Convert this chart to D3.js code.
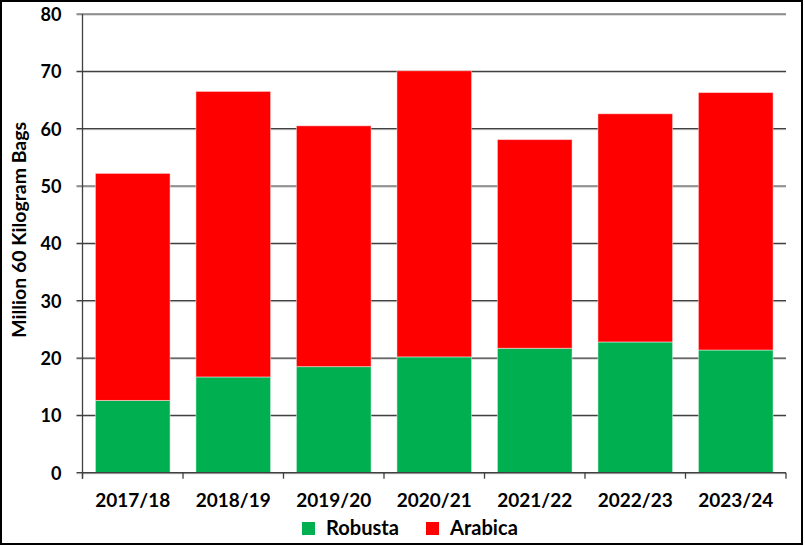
<!DOCTYPE html>
<html><head><meta charset="utf-8">
<script src="https://cdn.jsdelivr.net/npm/d3@7"></script>
<style>body{margin:0;background:#fff}svg{display:block}</style>
</head><body>
<svg id="c" width="805" height="546"></svg>
<script>
const categories = ["2017/18","2018/19","2019/20","2020/21","2021/22","2022/23","2023/24"];
const robusta = [12.6, 16.7, 18.5, 20.2, 21.7, 22.8, 21.4];
const arabica = [39.6, 49.8, 42.0, 49.9, 36.4, 39.8, 44.9];
const yTicks = [0,10,20,30,40,50,60,70,80];
const seriesNames = ["Robusta","Arabica"];
const colors = ["#00B050","#FF0000"];

const svg = d3.select("#c");
const m = {l: 82.5, r: 786, t: 14, b: 472.7};
const font = "Lato, 'Open Sans', sans-serif";

// choose font size so a sample string reaches a target width
function fitSize(str, target){
  const t = svg.append("text").attr("font-family",font).attr("font-weight","bold").attr("font-size","100px").text(str);
  const w = t.node().getComputedTextLength(); t.remove();
  return 100*target/w;
}
const xFs = fitSize("2017/18", 75);
const yFs = fitSize("60", 21);
const tFs = fitSize("Million 60 Kilogram Bags", 216);
const lFs = fitSize("Robusta", 73);

svg.append("rect").attr("x",1).attr("y",1).attr("width",801).attr("height",543)
  .attr("fill","#fff").attr("stroke","#000").attr("stroke-width",2);

const x = d3.scaleBand().domain(categories).range([m.l, m.r]).paddingInner(0.257).paddingOuter(0.1285);
const y = d3.scaleLinear().domain([0,80]).range([m.b, m.t]);

const g = svg.append("g");
yTicks.forEach(t => {
  g.append("line").attr("x1",m.l-6).attr("x2",m.r).attr("y1",y(t)+1).attr("y2",y(t)+1)
    .attr("stroke","#bfbfbf").attr("stroke-width",1);
  g.append("line").attr("x1",m.l-6).attr("x2",m.r).attr("y1",y(t)).attr("y2",y(t))
    .attr("stroke","#404040").attr("stroke-width",1.2);
});

const rows = categories.map((c,i)=>({cat:c, Robusta:robusta[i], Arabica:arabica[i]}));
const stack = d3.stack().keys(seriesNames)(rows);
stack.forEach((s,si) => {
  svg.append("g").selectAll("rect").data(s).join("rect")
    .attr("x", d => x(d.data.cat))
    .attr("width", x.bandwidth())
    .attr("y", d => y(d[1]))
    .attr("height", d => y(d[0]) - y(d[1]))
    .attr("fill", colors[si])
    .attr("stroke","rgba(255,255,255,0.45)").attr("stroke-width",1);
});

const yAxis = d3.axisLeft(y).tickValues(yTicks).tickSize(0).tickPadding(21);
const ya = svg.append("g").attr("transform",`translate(${m.l},0)`).call(yAxis);
ya.select(".domain").remove();
ya.selectAll("text").attr("font-family",font).attr("font-weight","bold").attr("font-size",yFs+"px").attr("fill","#000").attr("dy","0.36em");
svg.append("line").attr("x1",m.l).attr("x2",m.l).attr("y1",m.t).attr("y2",m.b+6).attr("stroke","#404040").attr("stroke-width",1.3);

svg.append("line").attr("x1",m.l).attr("x2",m.r).attr("y1",m.b).attr("y2",m.b).attr("stroke","#404040").attr("stroke-width",1.3);
for (let i=0;i<=categories.length;i++){
  const xx = m.l + i*(m.r-m.l)/categories.length;
  svg.append("line").attr("x1",xx).attr("x2",xx).attr("y1",m.b).attr("y2",m.b+6).attr("stroke","#404040").attr("stroke-width",1.3);
}
const xAxis = d3.axisBottom(x).tickSize(0).tickPadding(0);
const xa = svg.append("g").attr("transform",`translate(0,${m.b})`).call(xAxis);
xa.select(".domain").remove();
xa.selectAll("text").attr("font-family",font).attr("font-weight","bold").attr("font-size",xFs+"px").attr("fill","#000").attr("dy",null).attr("y",34);

svg.append("text").attr("transform",`translate(26,${(121.7+338)/2}) rotate(-90)`)
  .attr("text-anchor","middle").attr("font-family",font).attr("font-weight","bold").attr("font-size",tFs+"px")
  .text("Million 60 Kilogram Bags");

const legX = [302, 426];
seriesNames.forEach((n,i)=>{
  svg.append("rect").attr("x",legX[i]).attr("y",522).attr("width",13).attr("height",13).attr("fill",colors[i]);
  svg.append("text").attr("x",legX[i]+24).attr("y",534.5).attr("font-family",font).attr("font-weight","bold").attr("font-size",lFs+"px").text(n);
});
</script>
</body></html>
